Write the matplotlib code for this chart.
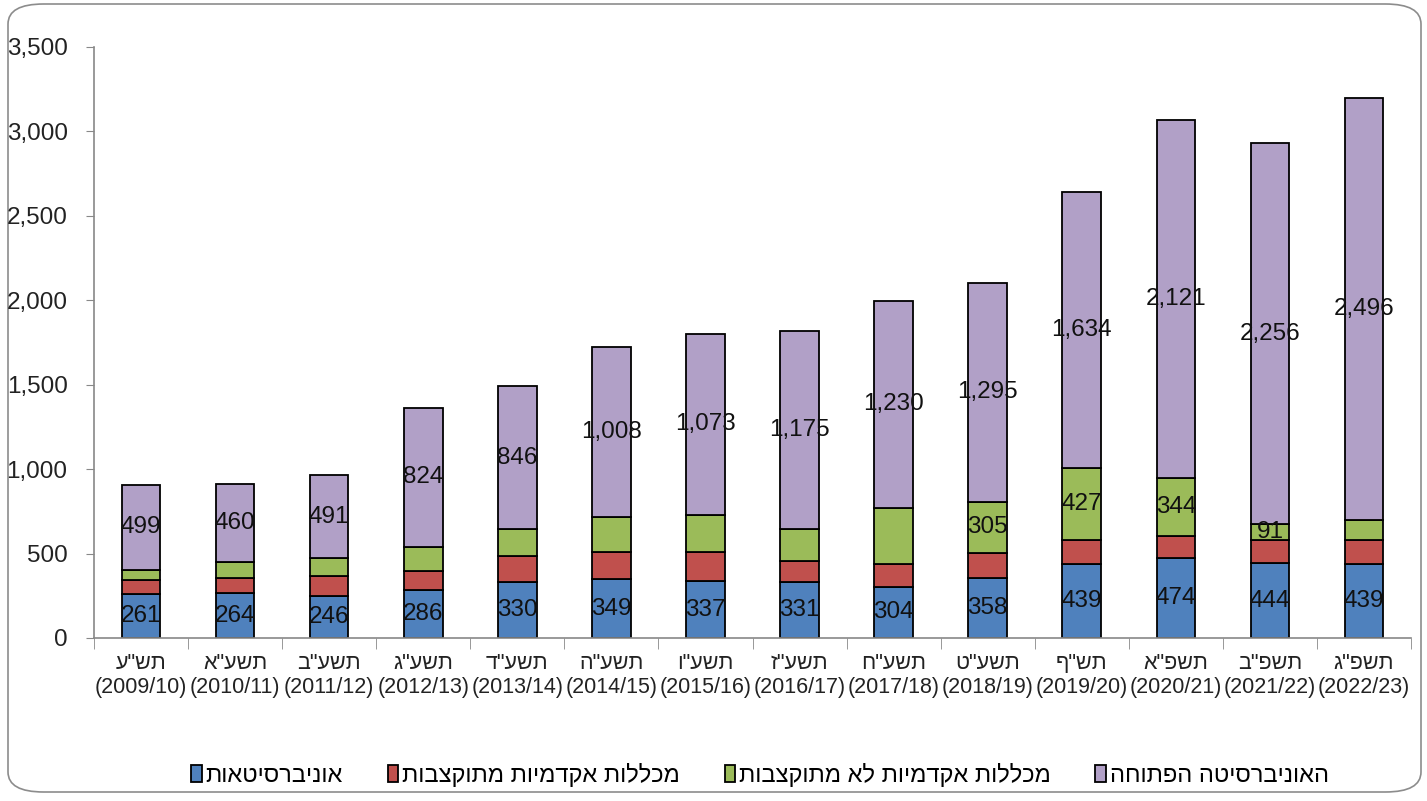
#!/bin/env python3
"""
Stacked bars: students by institution type, 2009/10 - 2022/23.
"""
import matplotlib
matplotlib.use('Agg')
import matplotlib.pyplot as plt
from matplotlib.patches import FancyBboxPatch
from matplotlib.ticker import FuncFormatter, FixedLocator

plt.rcParams['font.family'] = ['Liberation Sans', 'DejaVu Sans']

# Hebrew school years and civil years
years_he = ['תש"ע', 'תשע"א', 'תשע"ב', 'תשע"ג', 'תשע"ד', 'תשע"ה', 'תשע"ו',
            'תשע"ז', 'תשע"ח', 'תשע"ט', 'תש"ף', 'תשפ"א', 'תשפ"ב', 'תשפ"ג']
years = ['2009/10', '2010/11', '2011/12', '2012/13', '2013/14', '2014/15', '2015/16',
         '2016/17', '2017/18', '2018/19', '2019/20', '2020/21', '2021/22', '2022/23']

universities = [261, 264, 246, 286, 330, 349, 337, 331, 304, 358, 439, 474, 444, 439]
funded_colleges = [80, 93, 119, 113, 157, 162, 174, 127, 132, 145, 143, 128, 138, 143]
unfunded_colleges = [64, 95, 107, 142, 158, 205, 219, 185, 332, 305, 427, 344, 91, 119]
open_university = [499, 460, 491, 824, 846, 1008, 1073, 1175, 1230, 1295, 1634, 2121, 2256, 2496]
# green segments that carry a value label in the original
unfunded_labeled = [False] * 9 + [True] * 4 + [False]

series_names = ['אוניברסיטאות', 'מכללות אקדמיות מתוקצבות',
                'מכללות אקדמיות לא מתוקצבות', 'האוניברסיטה הפתוחה']
colors = ['#4F81BD', '#C0504D', '#9BBB59', '#B1A0C7']


def rtl(s: str) -> str:
    """ matplotlib draws left to right, so flip Hebrew for display """
    return s[::-1]


fig = plt.figure(figsize=(14.27, 8.01), dpi=100)
fig.patches.append(FancyBboxPatch((8 / 1427, 9 / 801), 1413 / 1427, 788 / 801,
                                  boxstyle='round,pad=0,rounding_size=0.025',
                                  transform=fig.transFigure, facecolor='white',
                                  edgecolor='#8c8c8c', linewidth=1.2, zorder=-1))
ax = fig.add_axes([94 / 1427, 1 - 638 / 801, 1317 / 1427, 591 / 801])
ax.patch.set_alpha(0)

x = list(range(len(years)))
bottom = [0] * len(x)
stacks = [universities, funded_colleges, unfunded_colleges, open_university]
handles = []
for k, (vals, col) in enumerate(zip(stacks, colors)):
    bars = ax.bar(x, vals, width=0.41, bottom=bottom, color=col,
                  edgecolor='black', linewidth=1.3, label=rtl(series_names[k]))
    handles.append(bars)
    for i, v in enumerate(vals):
        show = k in (0, 3) or (k == 2 and unfunded_labeled[i])
        if show:
            ax.text(i, bottom[i] + v / 2, f'{v:,}', ha='center', va='center',
                    fontsize=17.5, color='#111111')
    bottom = [b + v for b, v in zip(bottom, vals)]

ax.set_xlim(-0.5, len(x) - 0.5)
ax.set_ylim(0, 3500)
ax.set_yticks(range(0, 3501, 500))
ax.yaxis.set_major_formatter(FuncFormatter(lambda v, p: f'{int(v):,}'))
ax.tick_params(axis='y', labelsize=17.5, length=6, color='#888888', labelcolor='#222222', pad=13)

ax.set_xticks(x)
ax.set_xticklabels([f'{rtl(h)}\n({y})' for h, y in zip(years_he, years)],
                   fontsize=15.5, color='#222222', linespacing=1.15)
ax.tick_params(axis='x', length=0, pad=11)
ax.xaxis.set_minor_locator(FixedLocator([i - 0.5 for i in range(len(x) + 1)]))
ax.tick_params(axis='x', which='minor', length=8, color='#888888')

for side in ('top', 'right'):
    ax.spines[side].set_visible(False)
for side in ('left', 'bottom'):
    ax.spines[side].set_color('#888888')
    ax.spines[side].set_linewidth(1.2)

ax.legend(handles=handles, loc='center', bbox_to_anchor=(760 / 1427, 1 - 775 / 801),
          bbox_transform=fig.transFigure, ncol=4, frameon=False, fontsize=17,
          handlelength=0.45, handleheight=0.75, handletextpad=0.15, columnspacing=1.9)

fig.savefig('out.png', dpi=100)
